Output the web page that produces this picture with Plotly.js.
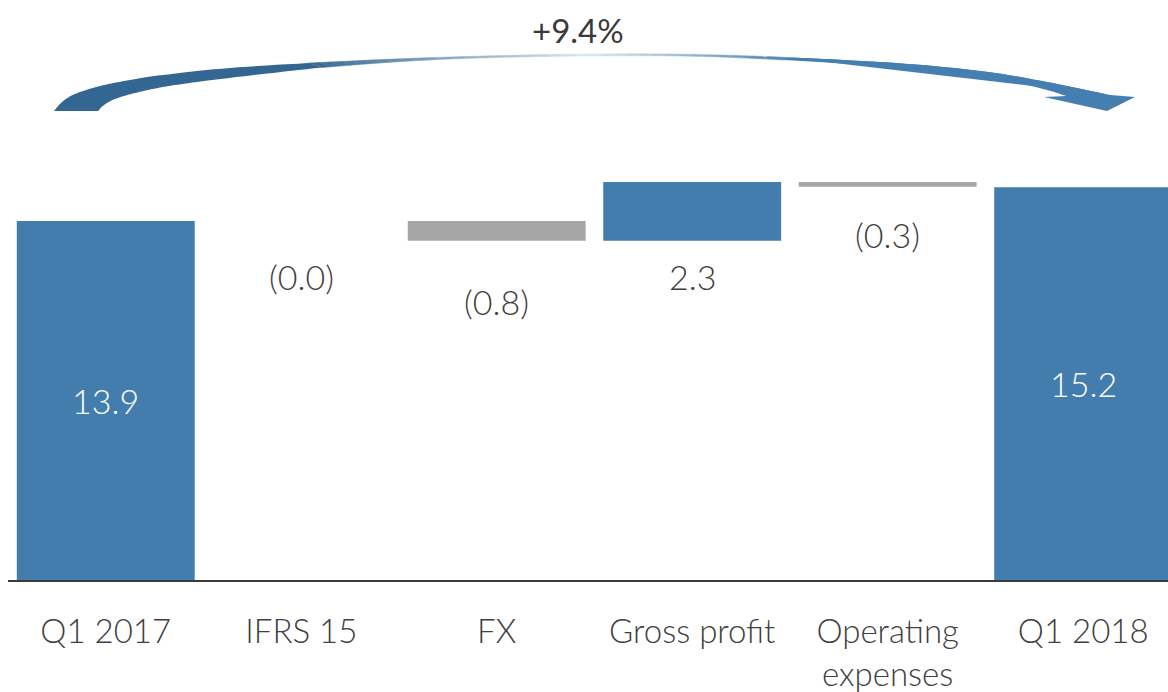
<!DOCTYPE html>
<html>
<head>
<meta charset="utf-8">
<script src="https://cdn.plot.ly/plotly-3.0.1.min.js"></script>
<style>
  html, body { margin: 0; padding: 0; background: #ffffff; }
  #chart { width: 1168px; height: 692px; }
</style>
</head>
<body>
<div id="chart"></div>
<script>
// ---- data ----
const categories = ['Q1 2017', 'IFRS 15', 'FX', 'Gross profit', 'Operating<br>expenses', 'Q1 2018'];
const measures = ['total', 'relative', 'relative', 'relative', 'relative', 'total'];
const values = [13.9, 0.0, -0.77, 2.28, -0.19, 15.2];
const valueLabels = ['13.9', '(0.0)', '(0.8)', '2.3', '(0.3)', '15.2'];
const growthLabel = '+9.4%';

// ---- style ----
const BLUE = '#437DAD';
const GREY = '#A6A6A6';
const TEXT = '#404040';
const FONT = 'Lato, "Open Sans", sans-serif';
const labelShift = [0, -56, -61, -36, -48, 0]; // px offset of labels below the bar end

// waterfall geometry from the data
const bases = [], heights = [], colors = [], labelY = [];
let running = 0;
for (let i = 0; i < values.length; i++) {
  if (measures[i] === 'total') {
    bases.push(0); heights.push(values[i]); running = values[i];
    colors.push(BLUE); labelY.push(values[i] / 2);
  } else {
    bases.push(running); heights.push(values[i]);
    colors.push(values[i] >= 0 ? BLUE : GREY);
    labelY.push(Math.min(running, running + values[i]));
    running += values[i];
  }
}

const trace = {
  type: 'bar',
  x: categories,
  y: heights,
  base: bases,
  width: 0.91,
  marker: { color: colors, line: { width: 0 } },
  hoverinfo: 'skip',
  showlegend: false
};

const annotations = categories.map((c, i) => ({
  x: c, y: labelY[i], xref: 'x', yref: 'y',
  xanchor: 'center', yanchor: 'middle',
  text: valueLabels[i], showarrow: false,
  yshift: labelShift[i],
  font: { family: FONT, size: 34, color: measures[i] === 'total' ? '#ffffff' : TEXT, weight: 300 }
}));

annotations.push({
  x: (578 - 8) / 1160, y: (580 - 30) / 580, xref: 'paper', yref: 'paper',
  xanchor: 'center', yanchor: 'middle',
  text: growthLabel, showarrow: false,
  font: { family: FONT, size: 33, color: '#3a3a3a', weight: 400 }
});

// ---- decorative curved arrow (pixel geometry converted to paper coords) ----
const W0 = 8, PW = 1160, B0 = 580, PH = 580;
const px = x => (x - W0) / PW;
const py = y => (B0 - y) / PH;
const outerK = [[54,111],[62,102],[75,94],[100,86],[130,80],[163,75],[230,68],[330,62],[450,57],[590,54],[720,55],[880,62],[980,71],[1047,82],[1110,95]];
const innerK = [[98,111],[104,105],[115,99],[135,93],[163,87],[197,82],[263,74],[340,66],[450,59],[590,56],[720,57],[880,66],[980,75],[1043,89],[1066,96]];
function catmull(pts, n) {
  const out = [];
  for (let i = 0; i < pts.length - 1; i++) {
    const p0 = pts[Math.max(0, i - 1)], p1 = pts[i], p2 = pts[i + 1], p3 = pts[Math.min(pts.length - 1, i + 2)];
    for (let k = 0; k < n; k++) {
      const t = k / n, t2 = t * t, t3 = t2 * t;
      const f = (a, b, c, d) => 0.5 * ((2 * b) + (-a + c) * t + (2 * a - 5 * b + 4 * c - d) * t2 + (-a + 3 * b - 3 * c + d) * t3);
      out.push([f(p0[0], p1[0], p2[0], p3[0]), f(p0[1], p1[1], p2[1], p3[1])]);
    }
  }
  out.push(pts[pts.length - 1]);
  return out;
}
const outer = catmull(outerK, 10);
const inner = catmull(innerK, 10);
function mix(a, b, t) {
  const pa = [parseInt(a.slice(1,3),16), parseInt(a.slice(3,5),16), parseInt(a.slice(5,7),16)];
  const pb = [parseInt(b.slice(1,3),16), parseInt(b.slice(3,5),16), parseInt(b.slice(5,7),16)];
  return 'rgb(' + pa.map((v, k) => Math.round(v + (pb[k] - v) * t)).join(',') + ')';
}
const CL = '#336690', CM = '#DCE7F0', CR = '#457FB0';
function arrowColor(x) {
  if (x < 300) return CL;
  if (x < 590) return mix(CL, CM, (x - 300) / 290);
  if (x < 800) return mix(CM, CR, (x - 590) / 210);
  return CR;
}
const toPath = pts => 'M' + pts.map(p => px(p[0]).toFixed(5) + ',' + py(p[1]).toFixed(5)).join(' L') + ' Z';
const shapes = [];
let iL = 0; while (outer[iL][0] < 300) iL++;
let iR = outer.length - 1; while (outer[iR][0] > 800) iR--;
// left solid piece
shapes.push({ type: 'path', xref: 'paper', yref: 'paper', layer: 'above',
  path: toPath(outer.slice(0, iL + 1).concat(inner.slice(0, iL + 1).reverse())),
  fillcolor: CL, line: { width: 0 } });
// gradient middle
for (let i = iL; i < iR; i++) {
  const q = [outer[i], outer[i + 1], inner[i + 1], inner[i]];
  const col = arrowColor((outer[i][0] + outer[i + 1][0]) / 2);
  shapes.push({ type: 'path', xref: 'paper', yref: 'paper', layer: 'above',
    path: toPath(q), fillcolor: col, line: { color: col, width: 0.5 } });
}
// right solid piece with head
const head = [[1044,97],[1135,97],[1107,111]];
shapes.push({ type: 'path', xref: 'paper', yref: 'paper', layer: 'above',
  path: toPath(outer.slice(iR)),
  fillcolor: CR, line: { width: 0 } });
shapes.push({ type: 'path', xref: 'paper', yref: 'paper', layer: 'above',
  path: toPath(outer.slice(iR).concat([[1135,97],[1107,111],[1044,97]]).concat(inner.slice(iR).reverse())),
  fillcolor: CR, line: { width: 0 } });

const layout = {
  width: 1168, height: 692,
  margin: { l: 8, r: 0, t: 0, b: 112 },
  paper_bgcolor: '#ffffff', plot_bgcolor: '#ffffff',
  showlegend: false,
  xaxis: {
    type: 'category', range: [-0.5, 5.434],
    showline: true, linecolor: '#3a3a3a', linewidth: 1.5,
    showgrid: false, zeroline: false, ticks: '', fixedrange: true,
    ticklabelstandoff: 22,
    tickfont: { family: FONT, size: 33, color: TEXT, weight: 300 }
  },
  yaxis: {
    range: [0, 22.45], visible: false, showgrid: false, zeroline: false, fixedrange: true
  },
  annotations: annotations,
  shapes: shapes
};

Plotly.newPlot('chart', [trace], layout, { displayModeBar: false, staticPlot: true });
</script>
</body>
</html>
